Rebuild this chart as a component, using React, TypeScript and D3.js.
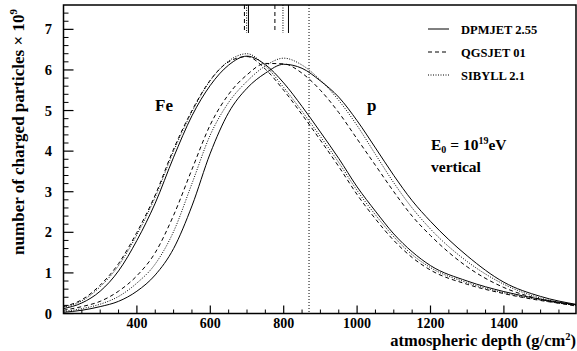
import React from "react";
import * as d3 from "d3";

const depths = [200, 250, 300, 350, 400, 450, 500, 550, 600, 650, 700, 750, 800, 850, 900, 950, 1000, 1050, 1100, 1150, 1200, 1300, 1400, 1500, 1600];

const feDpmjet = [0.12, 0.26, 0.55, 1.05, 1.8, 2.72, 3.85, 4.87, 5.62, 6.12, 6.34, 6.13, 5.68, 5.1, 4.47, 3.82, 3.12, 2.52, 1.96, 1.52, 1.18, 0.8, 0.54, 0.35, 0.21];
const feQgsjet = [0.17, 0.34, 0.7, 1.23, 2.0, 2.92, 4.05, 5.0, 5.75, 6.2, 6.33, 6.02, 5.5, 4.9, 4.27, 3.62, 2.93, 2.33, 1.8, 1.38, 1.07, 0.72, 0.49, 0.32, 0.2];
const feSibyll = [0.15, 0.31, 0.66, 1.18, 1.94, 2.87, 4.0, 4.97, 5.74, 6.22, 6.4, 6.1, 5.57, 4.98, 4.36, 3.72, 3.03, 2.43, 1.89, 1.45, 1.13, 0.76, 0.51, 0.33, 0.21];

const pDpmjet = [0.03, 0.08, 0.17, 0.3, 0.55, 0.95, 1.6, 2.65, 3.95, 4.95, 5.55, 5.92, 6.14, 6.04, 5.73, 5.33, 4.75, 4.08, 3.4, 2.78, 2.27, 1.42, 0.77, 0.42, 0.22];
const pQgsjet = [0.08, 0.17, 0.3, 0.55, 0.93, 1.5, 2.42, 3.55, 4.65, 5.4, 5.88, 6.16, 6.15, 5.92, 5.5, 4.95, 4.3, 3.65, 3.0, 2.4, 1.92, 1.15, 0.64, 0.35, 0.18];
const pSibyll = [0.05, 0.12, 0.23, 0.42, 0.75, 1.22, 2.02, 3.2, 4.4, 5.2, 5.72, 6.1, 6.29, 6.12, 5.75, 5.25, 4.63, 3.92, 3.22, 2.6, 2.08, 1.28, 0.72, 0.38, 0.21];

const xmaxMarkers = [693, 699, 704, 776, 798, 813];
const markerStyles = ["dashed", "dotted", "solid", "dashed", "dotted", "solid"];
const groundDepth = 869;

const xTicks = [400, 600, 800, 1000, 1200, 1400];
const yTicks = [0, 1, 2, 3, 4, 5, 6, 7];
const legendNames = ["DPMJET 2.55", "QGSJET 01", "SIBYLL 2.1"];
const legendStyles = ["solid", "dashed", "dotted"];

const dashFor = (s: string) => (s === "dashed" ? "4,3" : s === "dotted" ? "1,1.5" : undefined);

export default function App() {
  const W = 577, H = 351;
  const left = 63.5, right = 576, top = 5, bottom = 313.5;
  const x = d3.scaleLinear().domain([200, 1600]).range([left, right + 1.3]);
  const y = d3.scaleLinear().domain([0, 7.6]).range([bottom, top]);
  const line = d3
    .line<number>()
    .x((_, i) => x(depths[i]))
    .y((v) => y(v))
    .curve(d3.curveMonotoneX);

  const series = [
    { v: feDpmjet, s: "solid" },
    { v: feQgsjet, s: "dashed" },
    { v: feSibyll, s: "dotted" },
    { v: pDpmjet, s: "solid" },
    { v: pQgsjet, s: "dashed" },
    { v: pSibyll, s: "dotted" },
  ];

  const xMinor = d3.range(250, 1600, 50).filter((t) => t % 200 !== 0);
  const yMinor = d3.range(0, 7.6, 0.2).filter((t) => Math.abs(t - Math.round(t)) > 0.01);
  const font = "'Liberation Serif', 'Times New Roman', serif";

  return (
    <svg width={W} height={H} style={{ position: "absolute", left: 0, top: 0, background: "#fff" }} fontFamily={font} fontWeight="bold">
      <rect x={0} y={0} width={W} height={H} fill="#fff" />
      <defs>
        <clipPath id="plot">
          <rect x={left} y={top} width={right - left} height={bottom - top} />
        </clipPath>
      </defs>
      <g clipPath="url(#plot)">
        {series.map((d, i) => (
          <path key={i} d={line(d.v) || ""} fill="none" stroke="#000" strokeWidth={1} strokeDasharray={dashFor(d.s)} />
        ))}
      </g>
      <line x1={x(groundDepth)} x2={x(groundDepth)} y1={top} y2={bottom} stroke="#000" strokeWidth={1} strokeDasharray="1,2" />
      {xmaxMarkers.map((m, i) => (
        <line key={i} x1={x(m)} x2={x(m)} y1={top} y2={33} stroke="#000" strokeWidth={1} strokeDasharray={dashFor(markerStyles[i])} />
      ))}
      {xTicks.map((t) => (
        <line key={"xt" + t} x1={x(t)} x2={x(t)} y1={bottom} y2={bottom - 8} stroke="#000" strokeWidth={1.2} />
      ))}
      {xMinor.map((t) => (
        <line key={"xm" + t} x1={x(t)} x2={x(t)} y1={bottom} y2={bottom - 4} stroke="#000" strokeWidth={1} />
      ))}
      {yTicks.map((t) => (
        <line key={"yt" + t} x1={left} x2={left + 10} y1={y(t)} y2={y(t)} stroke="#000" strokeWidth={1.2} />
      ))}
      {yMinor.map((t) => (
        <line key={"ym" + t} x1={left} x2={left + 5} y1={y(t)} y2={y(t)} stroke="#000" strokeWidth={1} />
      ))}
      <rect x={left} y={top} width={right - left} height={bottom - top} fill="none" stroke="#000" strokeWidth={1.5} />
      {xTicks.map((t) => (
        <text key={"xl" + t} x={x(t)} y={328} textAnchor="middle" fontSize={14}>
          {t}
        </text>
      ))}
      {yTicks.map((t) => (
        <text key={"yl" + t} x={52} y={y(t) + 5} textAnchor="end" fontSize={14.5}>
          {t}
        </text>
      ))}
      <text x={576} y={346} textAnchor="end" fontSize={16.5}>
        atmospheric depth (g/cm<tspan dy={-6} fontSize={10.5}>2</tspan>
        <tspan dy={6}>)</tspan>
      </text>
      <text transform="translate(24,132) rotate(-90)" textAnchor="middle" fontSize={17}>
        number of charged particles × 10<tspan dy={-7} fontSize={11}>9</tspan>
      </text>
      {legendNames.map((n, i) => (
        <g key={n}>
          <line x1={428} x2={449} y1={29 + i * 23} y2={29 + i * 23} stroke="#000" strokeWidth={1} strokeDasharray={dashFor(legendStyles[i])} />
          <text x={461} y={33.5 + i * 23} fontSize={12.5}>
            {n}
          </text>
        </g>
      ))}
      <text x={155} y={111} fontSize={17}>Fe</text>
      <text x={367} y={111} fontSize={17}>p</text>
      <text x={431} y={150} fontSize={15.5}>
        E<tspan dy={3} fontSize={10}>0</tspan>
        <tspan dy={-3}> = 10</tspan>
        <tspan dy={-6} fontSize={10}>19</tspan>
        <tspan dy={6}>eV</tspan>
      </text>
      <text x={431} y={171.5} fontSize={15.5}>vertical</text>
    </svg>
  );
}
